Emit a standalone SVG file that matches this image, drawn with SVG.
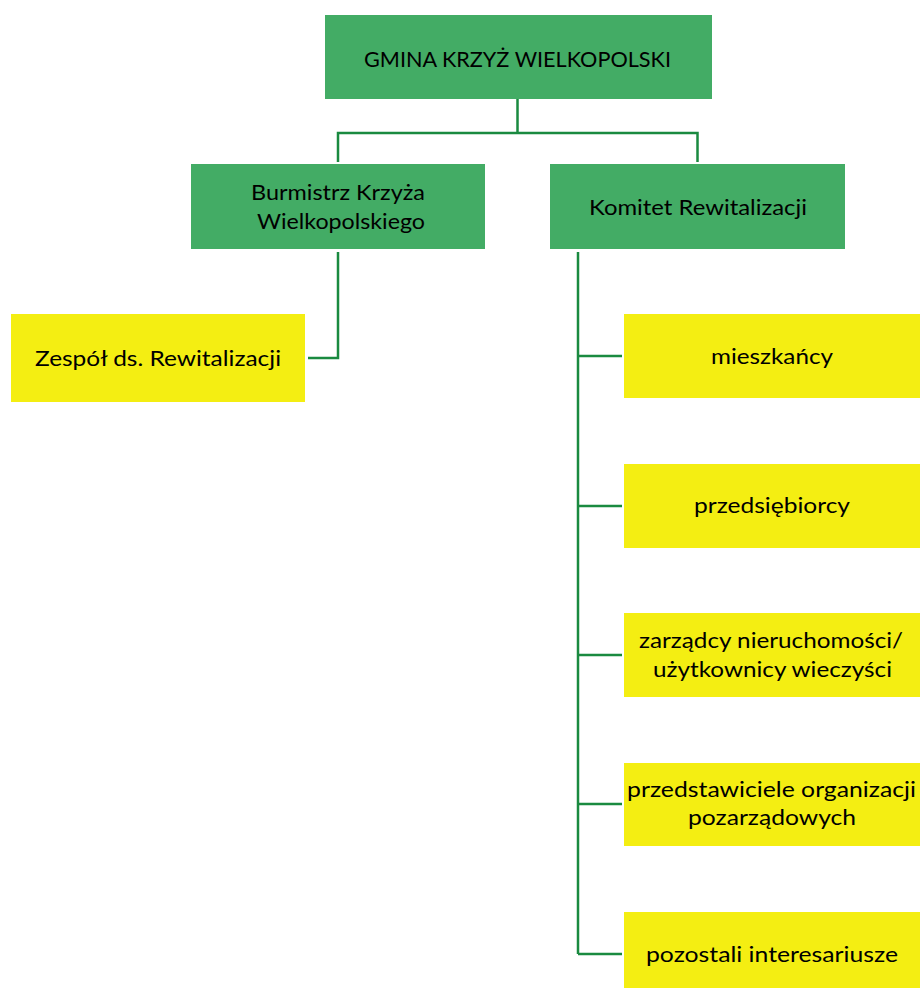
<svg xmlns="http://www.w3.org/2000/svg" width="920" height="988" viewBox="0 0 920 988">
<style>
.g{fill:#43AC65}
.y{fill:#F4EE12}
.t{font-family:Lato,"Open Sans","Liberation Sans",sans-serif;font-size:22px;fill:#000;text-anchor:middle}
.c{fill:none;stroke:#1A8A40;stroke-width:2.5}
</style>
<rect width="920" height="988" fill="#fff"/>
<g id="connectors">
<path class="c" d="M517.5,99 V133 M338,162 V133 H697.5 V162"/>
<path class="c" d="M338,252 V358 H308"/>
<path class="c" d="M578,252 V954 M578,356 H622 M578,506 H622 M578,655 H622 M578,804 H622 M578,954 H622"/>
</g>
<g id="gmina"><rect class="g" x="325" y="15" width="387" height="84"/>
<text class="t" x="517.5" y="67" textLength="307" lengthAdjust="spacingAndGlyphs">GMINA KRZYŻ WIELKOPOLSKI</text></g>
<g id="burmistrz"><rect class="g" x="191" y="164" width="294" height="85"/>
<text class="t" x="338" y="200" textLength="174" lengthAdjust="spacingAndGlyphs">Burmistrz Krzyża</text>
<text class="t" x="341" y="229" textLength="168" lengthAdjust="spacingAndGlyphs">Wielkopolskiego</text></g>
<g id="komitet"><rect class="g" x="550" y="164" width="295" height="85"/>
<text class="t" x="698" y="215" textLength="218" lengthAdjust="spacingAndGlyphs">Komitet Rewitalizacji</text></g>
<g id="zespol"><rect class="y" x="11" y="314" width="294" height="88"/>
<text class="t" x="158" y="366" textLength="246" lengthAdjust="spacingAndGlyphs">Zespół ds. Rewitalizacji</text></g>
<g id="mieszkancy"><rect class="y" x="624" y="314" width="296" height="84"/>
<text class="t" x="772" y="364" textLength="122" lengthAdjust="spacingAndGlyphs">mieszkańcy</text></g>
<g id="przedsiebiorcy"><rect class="y" x="624" y="464" width="296" height="84"/>
<text class="t" x="772" y="513" textLength="156" lengthAdjust="spacingAndGlyphs">przedsiębiorcy</text></g>
<g id="zarzadcy"><rect class="y" x="624" y="613" width="296" height="84"/>
<text class="t" x="771" y="648" textLength="264" lengthAdjust="spacingAndGlyphs">zarządcy nieruchomości/</text>
<text class="t" x="772.5" y="677" textLength="239" lengthAdjust="spacingAndGlyphs">użytkownicy wieczyści</text></g>
<g id="przedstawiciele"><rect class="y" x="624" y="763" width="296" height="83"/>
<text class="t" x="771.5" y="797" textLength="289" lengthAdjust="spacingAndGlyphs">przedstawiciele organizacji</text>
<text class="t" x="772" y="825" textLength="168" lengthAdjust="spacingAndGlyphs">pozarządowych</text></g>
<g id="pozostali"><rect class="y" x="624" y="912" width="296" height="76"/>
<text class="t" x="772" y="962" textLength="252" lengthAdjust="spacingAndGlyphs">pozostali interesariusze</text></g>
</svg>
